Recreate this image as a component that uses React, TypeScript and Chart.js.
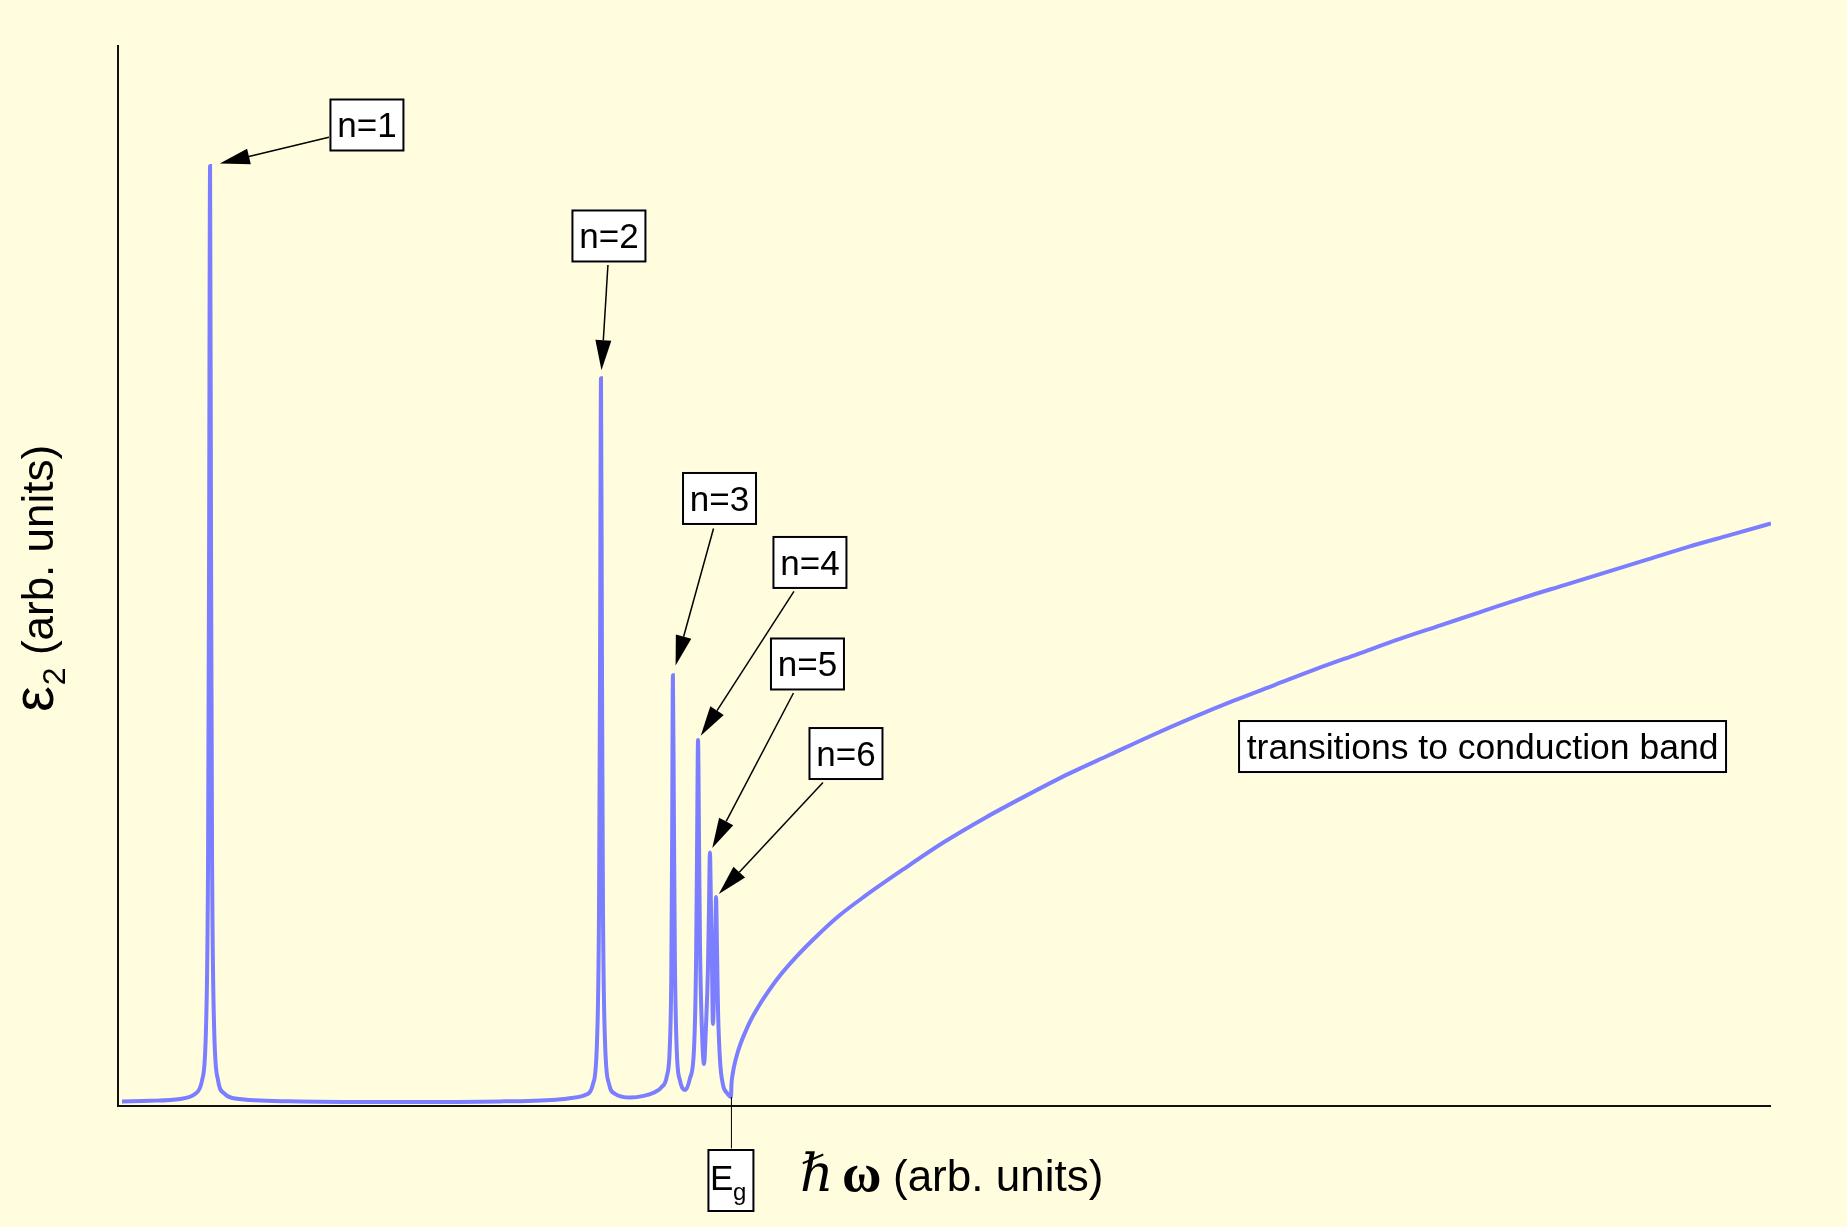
import React, { useEffect, useRef } from "react";
import { Chart, registerables } from "chart.js";

Chart.register(...registerables);

// ---------------- DATA (arbitrary units) ----------------
// photon energy  ħω  (arb. units)
const energy = [
  0.24, 1.94, 3.77, 4.72, 5.09, 5.33, 5.45, 5.51, 5.57, 5.63, 5.69, 5.81, 6.05, 6.42, 7.37,
  11.0, 17.06, 23.1, 26.5, 27.4, 28.37, 28.74, 28.98, 29.1, 29.16, 29.22, 29.28, 29.34, 29.46,
  29.7, 30.07, 31.0, 31.8, 32.4, 32.9, 33.2, 33.38, 33.47, 33.52, 33.57, 33.63, 33.69, 33.81, 34.0,
  34.33, 34.6, 34.85, 34.97, 35.03, 35.09, 35.15, 35.21, 35.33, 35.45, 35.57, 35.69, 35.75,
  35.81, 35.87, 35.93, 35.99, 36.08, 36.14, 36.18, 36.24, 36.3, 36.42, 36.6, 36.85, 37.08,
  37.12, 37.2, 37.3, 37.45, 37.65, 37.9, 38.25, 38.7, 39.3, 40.0, 41.0, 42.2, 43.6, 45.2,
  47.5, 50, 52.5, 55, 57.5, 60, 62.5, 65, 67.5, 70, 72.5, 75, 77.5, 80, 82.5, 85, 87.5,
  90, 92.5, 95, 97.5, 100,
];
// ε2  (arb. units)
const epsilon2 = [
  0.43, 0.49, 0.66, 1.2, 2.45, 7.7, 23.8, 51.9, 88.6, 51.9, 23.8, 7.7, 2.45, 1.2, 0.66,
  0.43, 0.38, 0.43, 0.6, 0.75, 1.1, 2.1, 6.2, 18.6, 40.9, 68.6, 40.9, 18.6, 6.2,
  2.1, 1.15, 0.8, 0.95, 1.25, 1.8, 2.8, 5.5, 12.0, 24.0, 40.6, 27.2, 13.8, 5.0, 2.4,
  1.51, 2.6, 5.5, 13.5, 24.0, 34.5, 25.0, 15.0, 7.0, 3.96, 7.5, 13.0, 18.5,
  23.9, 19.0, 14.0, 7.73, 12.0, 16.0, 19.7, 14.5, 9.0, 4.3, 2.0, 1.2, 0.85,
  2.2, 3.15, 3.95, 4.86, 5.82, 6.8, 8.0, 9.26, 10.7, 12.2, 14.0, 15.9, 17.9, 19.8,
  22.3, 24.9, 27.2, 29.3, 31.3, 33.1, 34.9, 36.6, 38.2, 39.7, 41.2, 42.6, 44.0, 45.3, 46.6, 47.9, 49.1,
  50.3, 51.5, 52.7, 53.8, 54.9,
];

// exciton lines n = 1..6
const excitonLabels = ["n=1", "n=2", "n=3", "n=4", "n=5", "n=6"];
const excitonEnergy = [5.57, 29.22, 33.57, 35.09, 35.81, 36.18];
const excitonPeak = [88.6, 68.6, 40.6, 34.5, 23.9, 19.7];

// band gap
const gapEnergy = 37.08;
const gapValue = 0.85;
const continuumLabel = "transitions to conduction band";

// ---------------- LAYOUT / STYLE ----------------
const W = 1847;
const H = 1227;
const BG = "#fffdde";
const LINE = "#7a7eff";
const SANS = "'Liberation Sans', Arial, Helvetica, sans-serif";
const SERIF = "'Liberation Serif', 'DejaVu Serif', 'Times New Roman', serif";

// label box centres (data units) and arrow tail offsets (px from box centre)
const excitonBoxPos = [
  [15.06, 92.46],
  [29.7, 82.0],
  [36.39, 57.26],
  [41.86, 51.23],
  [41.71, 41.66],
  [44.04, 33.22],
];
const arrowTailOffset = [
  [-37, 12],
  [-1, 29],
  [-6, 30],
  [-16, 29],
  [-14, 29],
  [-23, 29],
];
const arrowGap = [10, 8, 10, 5, 5, 4];
const continuumBoxPos = [82.55, 33.88];

function drawBox(ctx: CanvasRenderingContext2D, cx: number, cy: number, w: number, h: number) {
  ctx.fillStyle = "#ffffff";
  ctx.fillRect(cx - w / 2 - 1.5, cy - h / 2 - 1.5, w + 3, h + 3);
  ctx.strokeStyle = "#000";
  ctx.lineWidth = 2;
  ctx.strokeRect(cx - w / 2, cy - h / 2, w, h);
}

function drawArrow(ctx: CanvasRenderingContext2D, x0: number, y0: number, x1: number, y1: number) {
  const dx = x1 - x0;
  const dy = y1 - y0;
  const len = Math.hypot(dx, dy);
  const ux = dx / len;
  const uy = dy / len;
  const L = 30;
  const hw = 8;
  const bx = x1 - ux * L;
  const by = y1 - uy * L;
  ctx.strokeStyle = "#000";
  ctx.lineWidth = 1.5;
  ctx.beginPath();
  ctx.moveTo(x0, y0);
  ctx.lineTo(bx, by);
  ctx.stroke();
  ctx.fillStyle = "#000";
  ctx.beginPath();
  ctx.moveTo(x1, y1);
  ctx.lineTo(bx - uy * hw, by + ux * hw);
  ctx.lineTo(bx + uy * hw, by - ux * hw);
  ctx.closePath();
  ctx.fill();
}

const annotationPlugin = {
  id: "annotations",
  beforeDraw(chart: any) {
    const ctx = chart.ctx;
    ctx.save();
    ctx.fillStyle = BG;
    ctx.fillRect(0, 0, chart.width, chart.height);
    ctx.restore();
  },
  afterDatasetsDraw(chart: any) {
    const ctx: CanvasRenderingContext2D = chart.ctx;
    const xs = chart.scales.x;
    const ys = chart.scales.y;
    const { left, right, top, bottom } = chart.chartArea;
    ctx.save();

    // axes
    ctx.strokeStyle = "#111";
    ctx.lineWidth = 2;
    ctx.beginPath();
    ctx.moveTo(left, top);
    ctx.lineTo(left, bottom);
    ctx.lineTo(right, bottom);
    ctx.stroke();

    // exciton labels with arrows
    excitonLabels.forEach((lab, i) => {
      const cx = xs.getPixelForValue(excitonBoxPos[i][0]);
      const cy = ys.getPixelForValue(excitonBoxPos[i][1]);
      const px = xs.getPixelForValue(excitonEnergy[i]);
      const py = ys.getPixelForValue(excitonPeak[i]);
      const tx = cx + arrowTailOffset[i][0];
      const ty = cy + arrowTailOffset[i][1];
      const dx = tx - px;
      const dy = ty - py;
      const d = Math.hypot(dx, dy);
      const tipX = px + (dx / d) * arrowGap[i];
      const tipY = py + (dy / d) * arrowGap[i];
      drawArrow(ctx, tx, ty, tipX, tipY);
      drawBox(ctx, cx, cy, 73, 51);
      ctx.fillStyle = "#000";
      ctx.font = `35px ${SANS}`;
      ctx.textAlign = "center";
      ctx.textBaseline = "alphabetic";
      ctx.fillText(lab, cx, cy + 12.5);
    });

    // continuum label
    {
      const cx = xs.getPixelForValue(continuumBoxPos[0]);
      const cy = ys.getPixelForValue(continuumBoxPos[1]);
      drawBox(ctx, cx, cy, 487, 51);
      ctx.fillStyle = "#000";
      ctx.font = `35.5px ${SANS}`;
      ctx.textAlign = "center";
      ctx.fillText(continuumLabel, cx, cy + 12.5);
    }

    // band gap marker
    {
      const gx = xs.getPixelForValue(gapEnergy);
      const gy = ys.getPixelForValue(gapValue);
      const boxTop = bottom + 44;
      ctx.strokeStyle = "#000";
      ctx.lineWidth = 1;
      ctx.beginPath();
      ctx.moveTo(gx + 0.5, gy);
      ctx.lineTo(gx + 0.5, boxTop);
      ctx.stroke();
      drawBox(ctx, gx, boxTop + 30.5, 45, 61);
      ctx.fillStyle = "#000";
      ctx.textAlign = "left";
      ctx.font = `35px ${SANS}`;
      ctx.fillText("E", gx - 21, bottom + 84);
      ctx.font = `24px ${SANS}`;
      ctx.fillText("g", gx + 2, bottom + 94);
    }

    // x-axis title
    {
      const base = bottom + 85;
      ctx.fillStyle = "#000";
      ctx.textAlign = "left";
      ctx.font = `italic 52px ${SERIF}`;
      ctx.fillText("\u210F", 800, base);
      ctx.font = `bold 54px ${SERIF}`;
      ctx.fillText("\u03C9", 842, base);
      ctx.font = `44px ${SANS}`;
      ctx.fillText("(arb. units)", 893, base);
    }

    // y-axis title (rotated)
    {
      ctx.save();
      ctx.translate(53, 712);
      ctx.rotate(-Math.PI / 2);
      ctx.fillStyle = "#000";
      ctx.textAlign = "left";
      ctx.font = `58px ${SANS}`;
      ctx.fillText("\u03B5", 0, 0);
      const w1 = ctx.measureText("\u03B5").width;
      ctx.font = `32px ${SANS}`;
      ctx.fillText("2", w1 + 1, 12);
      const w2 = ctx.measureText("2").width;
      ctx.font = `44px ${SANS}`;
      ctx.fillText(" (arb. units)", w1 + 1 + w2, 0);
      ctx.restore();
    }

    ctx.restore();
  },
};

export default function App() {
  const canvasRef = useRef<HTMLCanvasElement | null>(null);

  useEffect(() => {
    const canvas = canvasRef.current;
    if (!canvas) return;
    const chart = new Chart(canvas, {
      type: "line",
      data: {
        datasets: [
          {
            label: "ε2",
            data: energy.map((x, i) => ({ x, y: epsilon2[i] })),
            borderColor: LINE,
            borderWidth: 4,
            pointRadius: 0,
            fill: false,
            cubicInterpolationMode: "monotone",
          },
        ],
      },
      options: {
        animation: false,
        responsive: false,
        maintainAspectRatio: false,
        devicePixelRatio: 1,
        events: [],
        layout: { padding: { left: 118, right: W - 1771, top: 45, bottom: H - 1106 } },
        plugins: { legend: { display: false }, tooltip: { enabled: false } },
        scales: {
          x: { type: "linear", min: 0, max: 100, display: false },
          y: { type: "linear", min: 0, max: 100, display: false },
        },
      },
      plugins: [annotationPlugin],
    } as any);
    return () => chart.destroy();
  }, []);

  return (
    <div style={{ position: "fixed", left: 0, top: 0, width: W, height: H, background: BG }}>
      <canvas ref={canvasRef} width={W} height={H} style={{ width: W, height: H, display: "block" }} />
    </div>
  );
}
